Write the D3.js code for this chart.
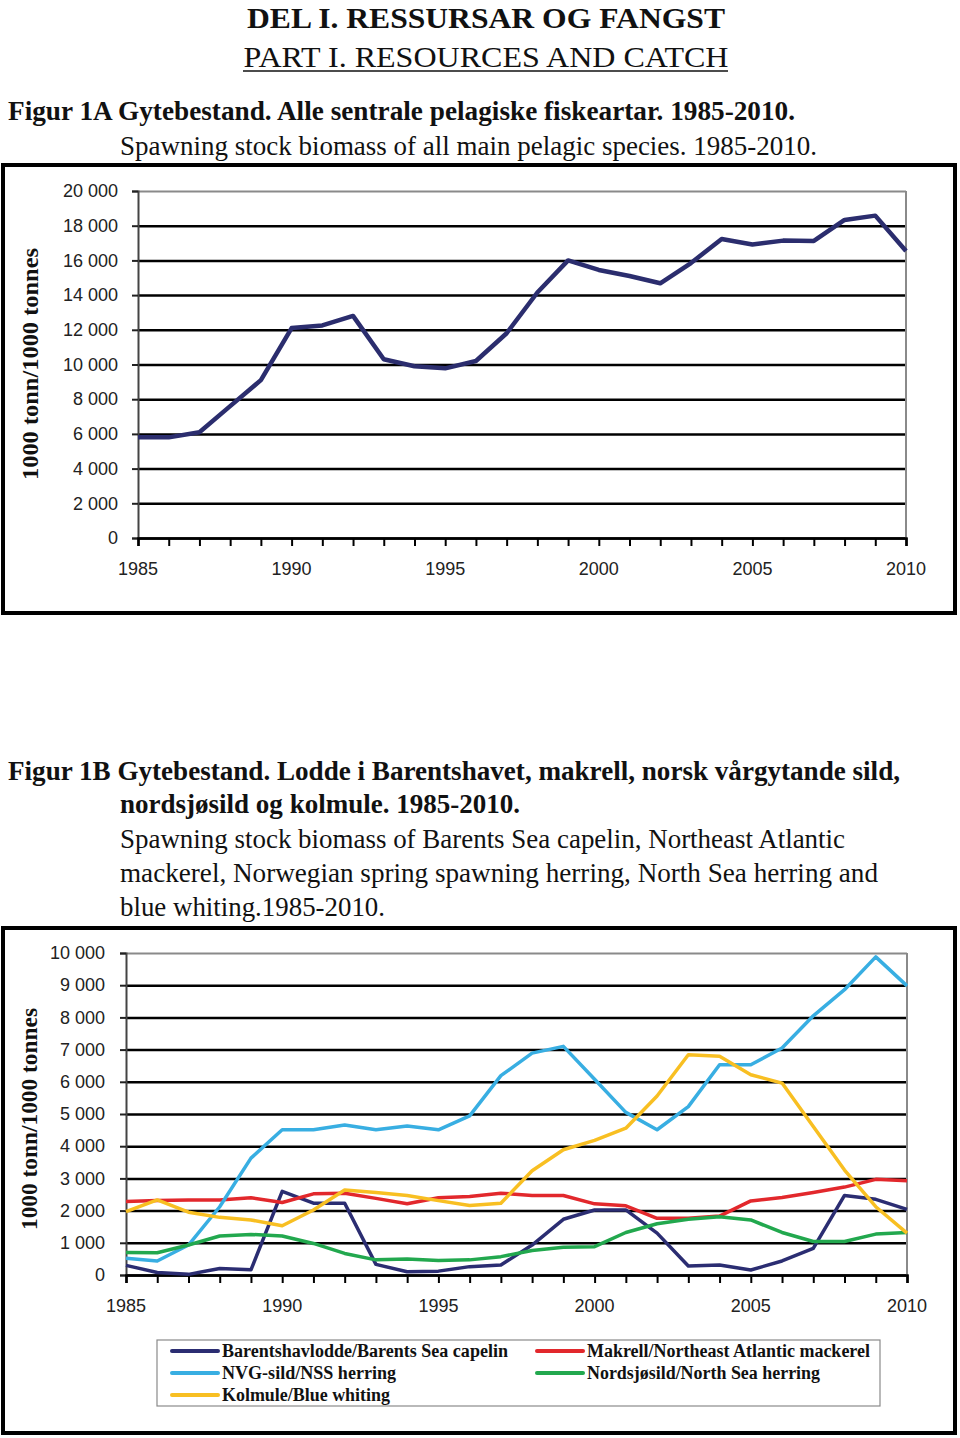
<!DOCTYPE html>
<html><head><meta charset="utf-8">
<script src="https://cdn.jsdelivr.net/npm/d3@7"></script>
<style>body{margin:0;background:#fff}svg{display:block}</style>
</head><body>
<svg id="c" width="960" height="1438"></svg>
<script>
const years = d3.range(1985, 2011);
const totalSSB = [5800,5800,6100,7600,9100,12100,12250,12800,10300,9900,9780,10200,11800,14150,16000,15450,15100,14680,15850,17230,16920,17140,17120,18330,18580,16540];
const capelin  = [300,80,20,200,160,2600,2230,2230,330,100,120,260,310,930,1730,2020,2020,1300,280,310,155,435,830,2470,2350,2040];
const mackerel = [2280,2310,2330,2330,2400,2250,2520,2540,2380,2210,2400,2440,2540,2470,2470,2210,2150,1760,1760,1830,2300,2410,2560,2730,2970,2930];
const nssHerring = [520,435,930,2120,3630,4510,4510,4660,4510,4630,4510,4940,6190,6890,7100,6080,5050,4510,5230,6530,6530,7050,8050,8860,9880,8980];
const nsHerring = [700,690,930,1210,1260,1210,980,670,470,500,450,470,570,760,860,880,1320,1590,1730,1810,1710,1320,1040,1040,1270,1320];
const blueWhiting = [1970,2330,1950,1790,1710,1530,2020,2640,2560,2470,2310,2160,2230,3240,3890,4180,4560,5560,6840,6790,6220,5960,4610,3260,2120,1300];
const ticksA = d3.range(0, 20001, 2000);
const ticksB = d3.range(0, 10001, 1000);
const xTickLabels = [1985,1990,1995,2000,2005,2010];
const seriesB = [
  {name:"Barentshavlodde/Barents Sea capelin", values:capelin, color:"#2B2D72"},
  {name:"Makrell/Northeast Atlantic mackerel", values:mackerel, color:"#E2282C"},
  {name:"NVG-sild/NSS herring", values:nssHerring, color:"#38AEE2"},
  {name:"Nordsjøsild/North Sea herring", values:nsHerring, color:"#22A84E"},
  {name:"Kolmule/Blue whiting", values:blueWhiting, color:"#F8BF22"}
];

const svg = d3.select("#c");
const serif = "'Liberation Serif','Times New Roman',Times,serif";
const sans = "'Liberation Sans',Arial,sans-serif";
const loc = d3.formatLocale({decimal:",", thousands:" ", grouping:[3], currency:["",""]});
const fmt = loc.format(",d");

function txt(x, y, s, size, weight, len, anchor) {
  const t = svg.append("text").attr("x", x).attr("y", y).text(s)
    .attr("font-family", serif).attr("font-size", size).attr("font-weight", weight)
    .attr("fill", "#111").attr("text-anchor", anchor || "start");
  if (len) t.attr("textLength", len).attr("lengthAdjust", "spacingAndGlyphs");
  return t;
}

// Headers
txt(486, 28, "DEL I. RESSURSAR OG FANGST", 30, "bold", 478, "middle");
txt(486, 67, "PART I. RESOURCES AND CATCH", 30, "normal", 485, "middle");
svg.append("line").attr("x1", 243).attr("x2", 728).attr("y1", 71).attr("y2", 71).attr("stroke", "#111").attr("stroke-width", 1.5);
txt(8, 120, "Figur 1A Gytebestand. Alle sentrale pelagiske fiskeartar. 1985-2010.", 27, "bold", 787);
txt(120, 155, "Spawning stock biomass of all main pelagic species. 1985-2010.", 27, "normal", 697);

txt(8, 780, "Figur 1B Gytebestand. Lodde i Barentshavet, makrell, norsk vårgytande sild,", 27, "bold", 892);
txt(120, 813, "nordsjøsild og kolmule. 1985-2010.", 27, "bold", 400);
txt(120, 848, "Spawning stock biomass of Barents Sea capelin, Northeast Atlantic", 27, "normal", 725);
txt(120, 882, "mackerel,  Norwegian spring spawning herring, North Sea herring and", 27, "normal", 758);
txt(120, 916, "blue whiting.1985-2010.", 27, "normal", 265);

// Frames
svg.append("rect").attr("x", 3).attr("y", 165).attr("width", 952).attr("height", 448)
  .attr("fill", "none").attr("stroke", "#000").attr("stroke-width", 4);
svg.append("rect").attr("x", 3).attr("y", 928).attr("width", 952).attr("height", 505)
  .attr("fill", "none").attr("stroke", "#000").attr("stroke-width", 4);

function chart(cfg) {
  const x = d3.scaleLinear().domain([1985, 2010]).range([cfg.x0, cfg.x1]);
  const y = d3.scaleLinear().domain([0, cfg.ymax]).range([cfg.y0, cfg.y1]);
  const g = svg.append("g");
  const grid = g.append("g").attr("transform", `translate(${cfg.x0},0)`)
    .call(d3.axisLeft(y).tickValues(cfg.ticks).tickSize(-(cfg.x1 - cfg.x0)).tickFormat(""));
  grid.select(".domain").remove();
  grid.selectAll(".tick line").attr("stroke", "#000").attr("stroke-width", 2.5);
  grid.selectAll(".tick").filter(d => d === cfg.ymax).select("line").attr("stroke", "#8a8a8a").attr("stroke-width", 2);
  g.append("line").attr("x1", cfg.x1).attr("x2", cfg.x1).attr("y1", cfg.y1).attr("y2", cfg.y0)
    .attr("stroke", "#8a8a8a").attr("stroke-width", 2);
  const ya = g.append("g").attr("transform", `translate(${cfg.x0},0)`)
    .call(d3.axisLeft(y).tickValues(cfg.ticks).tickSize(6).tickPadding(cfg.ypad).tickFormat(fmt));
  ya.select(".domain").attr("stroke", "#444").attr("stroke-width", 2);
  ya.selectAll(".tick line").attr("stroke", "#222").attr("stroke-width", 2);
  ya.selectAll("text").attr("font-family", sans).attr("font-size", 18).attr("fill", "#222");
  const xa = g.append("g").attr("transform", `translate(0,${cfg.y0})`)
    .call(d3.axisBottom(x).tickValues(years).tickSize(8).tickFormat(""));
  xa.select(".domain").attr("stroke", "#000").attr("stroke-width", 2.5);
  xa.selectAll(".tick line").attr("stroke", "#000").attr("stroke-width", 2);
  g.append("g").selectAll("text").data(xTickLabels).join("text")
    .attr("x", d => x(d)).attr("y", cfg.y0 + cfg.xlab).attr("text-anchor", "middle")
    .attr("font-family", sans).attr("font-size", 18).attr("fill", "#222").text(d => d);
  svg.append("text").attr("transform", `translate(${cfg.tx},${cfg.ty}) rotate(-90)`)
    .attr("text-anchor", "middle").attr("font-family", serif).attr("font-weight", "bold")
    .attr("font-size", 24).attr("fill", "#111").attr("textLength", cfg.tlen).attr("lengthAdjust", "spacingAndGlyphs")
    .text("1000 tonn/1000 tonnes");
  return {x, y, g};
}

// Chart A
const A = chart({x0:138, x1:906, y0:538, y1:191, ymax:20000, ticks:ticksA, ypad:14, xlab:37, tx:38, ty:364, tlen:232});
A.g.append("path").datum(totalSSB)
  .attr("d", d3.line().x((d, i) => A.x(years[i])).y(d => A.y(d)))
  .attr("fill", "none").attr("stroke", "#2B2D6E").attr("stroke-width", 4.5).attr("stroke-linejoin", "round");

// Chart B
const B = chart({x0:126, x1:907, y0:1275, y1:953, ymax:10000, ticks:ticksB, ypad:15, xlab:37, tx:37, ty:1119, tlen:222});
B.g.selectAll("path.series").data(seriesB).join("path").attr("class", "series")
  .attr("d", s => d3.line().x((d, i) => B.x(years[i])).y(d => B.y(d))(s.values))
  .attr("fill", "none").attr("stroke", s => s.color).attr("stroke-width", 3.5).attr("stroke-linejoin", "round");

// Legend
svg.append("rect").attr("x", 157).attr("y", 1340).attr("width", 723).attr("height", 66)
  .attr("fill", "#fff").attr("stroke", "#8a8a8a").attr("stroke-width", 1.2);
const legendPos = [
  {lx:172, ty:1351, len:286}, {lx:537, ty:1351, len:283},
  {lx:172, ty:1373, len:174}, {lx:537, ty:1373, len:233},
  {lx:172, ty:1395, len:168}
];
const lg = svg.append("g").selectAll("g").data(seriesB).join("g")
  .attr("transform", (d, i) => `translate(${legendPos[i].lx},${legendPos[i].ty})`);
lg.append("line").attr("x1", 0).attr("x2", 46).attr("stroke", d => d.color).attr("stroke-width", 4).attr("stroke-linecap", "round");
lg.append("text").attr("x", 50).attr("y", 6).text(d => d.name)
  .attr("font-family", serif).attr("font-weight", "bold").attr("font-size", 18).attr("fill", "#111")
  .attr("textLength", (d, i) => legendPos[i].len).attr("lengthAdjust", "spacingAndGlyphs");
</script>
</body></html>
